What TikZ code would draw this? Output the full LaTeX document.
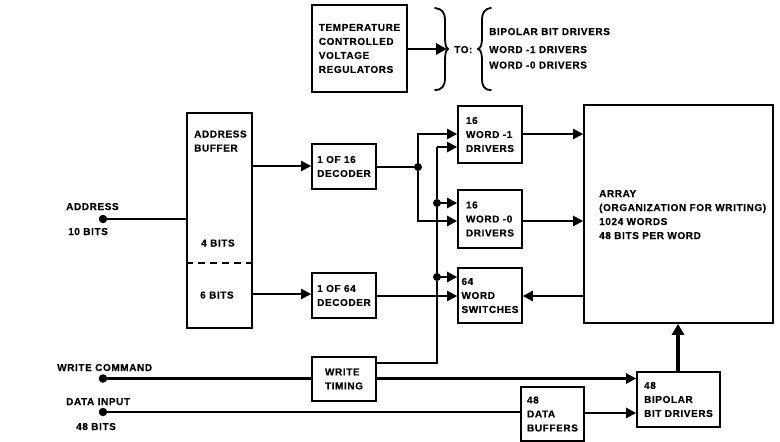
\documentclass[tikz,border=0pt]{standalone}
\usepackage{fontspec}
\setmainfont{Liberation Sans}[BoldFont={Liberation Sans Bold},BoldFeatures={LetterSpace=6,FakeBold=0.4}]
\usetikzlibrary{arrows.meta}
\tikzset{
  every node/.style={font=\bfseries\fontsize{10}{14}\selectfont, text=black},
  blk/.style={draw=black, line width=1.6pt, fill=white, inner sep=0pt, align=left},
  lbl/.style={inner sep=0pt, align=left, anchor=base west},
  wire/.style={line width=2.2pt, draw=black},
  arr/.style={wire, -{Triangle[length=10pt,width=10pt]}},
  dot/.style={circle, fill=black, inner sep=0pt, minimum size=8.5pt},
  jn/.style={circle, fill=black, inner sep=0pt, minimum size=8pt},
  brc/.style={line width=1.8pt, draw=black, line cap=round}
}
\begin{document}
\begin{tikzpicture}[x=1pt,y=-1pt]
\useasboundingbox (0,0) rectangle (780,442);
% blocks
\node[blk, minimum width=95pt, minimum height=87pt] (temp) at (359.5,48.5) {TEMPERATURE\\CONTROLLED\\VOLTAGE\\REGULATORS};
\node[blk, minimum width=65pt, minimum height=215pt] (abuf) at (219.5,220.5) {};
\node[blk, minimum width=64pt, minimum height=45pt] (dec1) at (344,166.5) {1 OF 16\\DECODER};
\node[blk, minimum width=64pt, minimum height=45pt] (dec2) at (344,295.5) {1 OF 64\\DECODER};
\node[blk, minimum width=64pt, minimum height=57pt] (w1) at (490,134.5) {16\\WORD -1\\DRIVERS};
\node[blk, minimum width=64pt, minimum height=58pt] (w0) at (490,219) {16\\WORD -0\\DRIVERS};
\node[blk, minimum width=64pt, minimum height=55pt] (sw) at (490,295.5) {64\\WORD\\SWITCHES};
\node[blk, minimum width=64pt, minimum height=44pt] (wt) at (344,379) {WRITE\\TIMING};
\node[blk, minimum width=63pt, minimum height=54pt] (db) at (552.5,414) {48\\DATA\\BUFFERS};
\node[blk, minimum width=83pt, minimum height=55pt] (bd) at (678.5,399.5) {48\\BIPOLAR\\BIT DRIVERS};
\node[blk, minimum width=189pt, minimum height=218pt] (arrn) at (678.5,214) {};
% texts
\node[lbl] (t0) at (599,239) {ARRAY\\(ORGANIZATION FOR WRITING)\\1024 WORDS\\48 BITS PER WORD};
\node[lbl] (t1) at (194,151.5) {ADDRESS\\BUFFER};
\node[lbl] (t2) at (201,246.5) {4 BITS};
\node[lbl] (t3) at (200,298.5) {6 BITS};
\node[lbl] (to) at (454,53) {TO:};
\node[lbl] (b1) at (489,35) {BIPOLAR BIT DRIVERS};
\node[lbl] (b2) at (489,53) {WORD -1 DRIVERS};
\node[lbl] (b3) at (489,68.5) {WORD -0 DRIVERS};
\node[lbl] (ad) at (66,210) {ADDRESS};
\node[lbl] (ab) at (68,235) {10 BITS};
\node[lbl] (wc) at (57,371) {WRITE COMMAND};
\node[lbl] (di) at (66,405) {DATA INPUT};
\node[lbl] (dib) at (76,430) {48 BITS};
% terminals and junctions
\node[dot] (pa) at (103,219) {};
\node[dot] (pw) at (103,378.5) {};
\node[dot] (pd) at (103,412) {};
\node[jn] (j1) at (418,167) {};
\node[jn] (j2) at (437,203) {};
\node[jn] (j3) at (437,277) {};
% ports
\coordinate (c1) at (418,134);
\coordinate (c2) at (418,221);
\coordinate (c3) at (437,147);
\coordinate (c4) at (437,363);
\coordinate (a1) at (252,166);
\coordinate (a2) at (252,294);
\coordinate (ta) at (447,49);
\coordinate (tb) at (678,372);
% dashed divider
\draw[line width=1.4pt, dash pattern=on 7pt off 5pt] (abuf.west |- 0,263) -- (abuf.east |- 0,263);
% connectors
\draw[wire] (pa) -- (abuf.west |- pa);
\draw[arr] (a1) -- (dec1.west |- a1);
\draw[arr] (a2) -- (dec2.west |- a2);
\draw[wire] (dec1.east |- j1) -- (j1);
\draw[arr] (j1) -- (c1) -- (w1.west |- c1);
\draw[arr] (j1) -- (c2) -- (w0.west |- c2);
\draw[arr] (dec2.east |- 0,296) -- (sw.west |- 0,296);
\draw[wire] (wt.east |- c4) -- (c4) -- (j3) -- (j2) -- (c3);
\draw[arr] (c3) -- (w1.west |- c3);
\draw[arr] (j2) -- (w0.west |- j2);
\draw[arr] (j3) -- (sw.west |- j3);
\draw[arr] (w1.east |- c1) -- (arrn.west |- c1);
\draw[arr] (w0.east |- c2) -- (arrn.west |- c2);
\draw[arr] (arrn.west |- 0,296) -- (sw.east |- 0,296);
\draw[wire] (pw) -- (wt.west |- pw);
\draw[arr] (wt.east |- pw) -- (bd.west |- pw);
\draw[wire] (pd) -- (db.west |- pd);
\draw[arr] (db.east |- 0,413) -- (bd.west |- 0,413);
\draw[wire, line width=3.2pt, -{Triangle[length=11pt,width=12pt]}] (tb) -- (tb |- arrn.south);
\draw[wire, line width=2.8pt, -{Triangle[length=11pt,width=11pt]}] (temp.east |- ta) -- (ta);
% braces
\draw[brc] (435,8) .. controls (442,9) and (445,12) .. (445,21) -- (445,38) .. controls (445,44) and (446,48) .. (448,49) .. controls (446,50) and (445,54) .. (445,60) -- (445,78) .. controls (445,86) and (442,90) .. (435,90);
\draw[brc] (491,8) .. controls (484,9) and (482,13) .. (482,21) -- (482,38) .. controls (482,44) and (481,48) .. (478,49) .. controls (481,50) and (482,54) .. (482,60) -- (482,78) .. controls (482,86) and (484,90) .. (491,90);
\end{tikzpicture}
\end{document}
